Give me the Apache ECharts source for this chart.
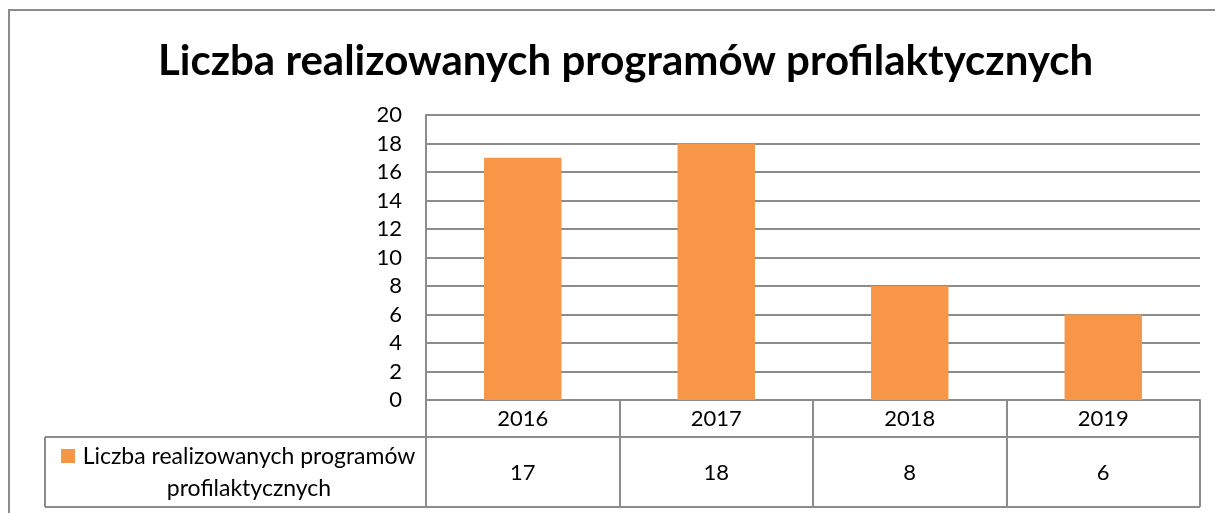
<!DOCTYPE html>
<html>
<head>
<meta charset="utf-8">
<script src="https://cdn.jsdelivr.net/npm/echarts@6/dist/echarts.min.js"></script>
<style>
  html, body { margin: 0; padding: 0; background: #fff; }
  #chart { width: 1215px; height: 513px; }
</style>
</head>
<body>
<div id="chart"></div>
<script>
// dane
const years = ['2016', '2017', '2018', '2019']
const programs = [17, 18, 8, 6]
const seriesName = 'Liczba realizowanych programów profilaktycznych'
const yTicks = [0, 2, 4, 6, 8, 10, 12, 14, 16, 18, 20]

const FONT = 'Lato'
const GRAY = '#8c8c8c'
const ORANGE = '#f79646'

// układ siatki (piksele)
const gLeft = 426, gRight = 1200, gTop = 115, gBottom = 400
const row1 = 437, row2 = 507, tableLeft = 45

const mychart = echarts.init(document.getElementById('chart'))

let option = {
    animation: false,
    title: {
        text: seriesName,
        left: 153,
        top: 35,
        textStyle: { fontFamily: FONT, fontWeight: 'bold', fontSize: 42, color: '#000' },
    },
    grid: {
        left: gLeft,
        right: 1215 - gRight,
        top: gTop,
        bottom: 513 - gBottom,
        containLabel: false,
    },
    xAxis: [
        {
            type: 'category',
            data: years,
            axisLine: { lineStyle: { color: GRAY, width: 2 } },
            // pionowe linie tabeli danych
            axisTick: { show: true, length: row2 - gBottom, lineStyle: { color: GRAY, width: 2 } },
            axisLabel: { color: '#000', fontFamily: FONT, fontSize: 22, margin: 8 },
        },
        {
            // wiersz wartości w tabeli
            type: 'category',
            position: 'bottom',
            offset: row1 - gBottom,
            data: programs.map(String),
            axisLine: { show: false },
            axisTick: { show: false },
            axisLabel: { color: '#000', fontFamily: FONT, fontSize: 22, margin: 25 },
        },
    ],
    yAxis: {
        type: 'value',
        min: 0,
        max: 20,
        interval: 2,
        axisLine: { show: true, lineStyle: { color: GRAY, width: 2 } },
        axisTick: { show: false },
        axisLabel: {
            color: '#000', fontFamily: FONT, fontSize: 22, margin: 24,
            formatter: v => (yTicks.indexOf(v) >= 0 ? String(v) : ''),
        },
        splitLine: { lineStyle: { color: GRAY, width: 2 } },
    },
    series: [
        {
            name: seriesName,
            type: 'bar',
            data: programs,
            barWidth: '40%',
            itemStyle: { color: ORANGE },
        },
    ],
    graphic: [
        // ramka wykresu
        { type: 'polyline', shape: { points: [[9, 513], [9, 10], [1215, 10]] }, style: { stroke: GRAY, lineWidth: 2, fill: null } },
        // linie tabeli
        { type: 'line', shape: { x1: gLeft, y1: gBottom, x2: gLeft, y2: row2 }, style: { stroke: GRAY, lineWidth: 2 } },
        { type: 'line', shape: { x1: tableLeft, y1: row1, x2: gRight, y2: row1 }, style: { stroke: GRAY, lineWidth: 2 } },
        { type: 'line', shape: { x1: tableLeft, y1: row2, x2: gRight, y2: row2 }, style: { stroke: GRAY, lineWidth: 2 } },
        { type: 'line', shape: { x1: tableLeft, y1: row1, x2: tableLeft, y2: row2 }, style: { stroke: GRAY, lineWidth: 2 } },
        { type: 'line', shape: { x1: gRight, y1: gBottom, x2: gRight, y2: row2 }, style: { stroke: GRAY, lineWidth: 2 } },
        // klucz legendy w tabeli
        { type: 'rect', shape: { x: 61, y: 449, width: 14, height: 14 }, style: { fill: ORANGE } },
        {
            type: 'text',
            x: 249,
            y: 473,
            style: {
                text: 'Liczba realizowanych programów\nprofilaktycznych',
                fontFamily: FONT,
                fontSize: 23,
                lineHeight: 32,
                fill: '#000',
                align: 'center',
                verticalAlign: 'middle',
            },
        },
    ],
}

mychart.setOption(option)
</script>
</body>
</html>
